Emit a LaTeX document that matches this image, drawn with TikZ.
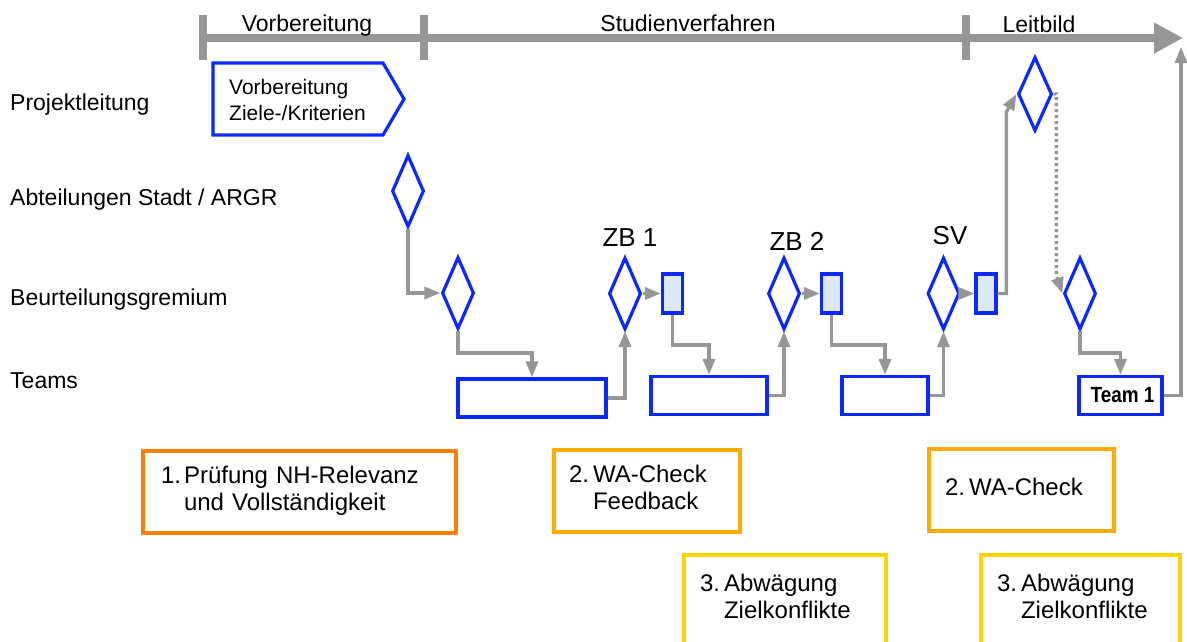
\documentclass[tikz,border=0pt]{standalone}
\usepackage{fontspec}
\setmainfont{Liberation Sans}
\usepackage{tikz}
\usetikzlibrary{shapes.geometric, arrows.meta, positioning, calc}
\definecolor{flowblue}{RGB}{10, 40, 255}
\definecolor{flowgray}{RGB}{150, 150, 150}
\definecolor{lightfill}{RGB}{220, 232, 246}
\definecolor{orangeA}{RGB}{255, 128, 0}
\definecolor{orangeB}{RGB}{255, 170, 0}
\definecolor{goldC}{RGB}{255, 210, 0}

\begin{document}
\begin{tikzpicture}[x=1pt, y=-1pt,
    flow/.style={draw=flowgray, line width=3.4pt, -{Triangle[length=16pt,width=12pt]}},
    gate/.style={diamond, draw=flowblue, line width=3.2pt, minimum width=32pt, minimum height=72pt, inner sep=0pt},
    slot/.style={rectangle, draw=flowblue, line width=3.2pt, fill=lightfill, minimum width=20pt, minimum height=39pt, inner sep=0pt},
    teambox/.style={rectangle, draw=flowblue, line width=3.2pt, minimum height=38pt, inner sep=0pt},
    rowlabel/.style={anchor=base west, inner sep=0pt, font=\fontsize{23}{27}\selectfont},
    phase/.style={anchor=base, inner sep=0pt, font=\fontsize{23}{27}\selectfont},
    zblabel/.style={anchor=base, inner sep=0pt, font=\fontsize{26}{30}\selectfont},
    note/.style={rectangle, line width=3.4pt, align=left, inner ysep=0pt, font=\fontsize{24}{27}\selectfont}]
    \useasboundingbox (0,0) rectangle (1187,641);

    % time line
    \coordinate (tstart) at (203,38);
    \coordinate (tend) at (1183,38);
    \draw[flowgray, line width=7.5pt, -{Triangle[length=29pt,width=29pt]}] (tstart) -- (tend);
    \foreach \x in {203,424,966}
        \draw[flowgray, line width=8pt] (\x,15) -- (\x,60);
    \node[phase] (ph1) at (307,31) {Vorbereitung};
    \node[phase] (ph2) at (688,31) {Studienverfahren};
    \node[phase] (ph3) at (1039,32) {Leitbild};

    % rows
    \node[rowlabel] (rpl) at (10,110) {Projektleitung};
    \node[rowlabel] (rabt) at (10,205) {Abteilungen Stadt / ARGR};
    \node[rowlabel] (rbg) at (10,305) {Beurteilungsgremium};
    \node[rowlabel] (rteam) at (10,388) {Teams};

    % Projektleitung
    \draw[flowblue, line width=3.2pt] (213,63) -- (383,63) -- (404,99) -- (383,135) -- (213,135) -- cycle;
    \node[anchor=west, align=left, inner sep=0pt, font=\fontsize{21}{26}\selectfont] (prep) at (229,100) {Vorbereitung\\Ziele-/Kriterien};

    % process
    \node[gate] (abt) at (408,191) {};
    \node[gate] (bg1) at (458,293) {};
    \node[teambox, minimum width=148pt] (t1) at (532,398) {};
    \node[gate] (zb1) at (625,293.5) {};
    \node[slot] (r1) at (672.5,293.5) {};
    \node[teambox, minimum width=116pt] (t2) at (709,395.5) {};
    \node[gate] (zb2) at (784,293.5) {};
    \node[slot] (r2) at (831.5,293.5) {};
    \node[teambox, minimum width=86pt] (t3) at (885,395.5) {};
    \node[gate] (sv) at (943.5,293.5) {};
    \node[slot] (r3) at (986,293.5) {};
    \node[gate, minimum width=34pt, minimum height=74pt] (lb) at (1035,94) {};
    \node[gate] (bg2) at (1080,293.5) {};
    \node[teambox, minimum width=83pt, font=\bfseries\fontsize{22}{24}\selectfont] (team) at (1120.5,395.5) {\hspace{4pt}\scalebox{0.86}[1]{Team 1}};
    \coordinate (fin) at (1181,47);

    \node[zblabel] (zb1l) at (630,246) {ZB 1};
    \node[zblabel] (zb2l) at (797,250) {ZB 2};
    \node[zblabel] (svl) at (950,244) {SV};

    % connectors
    \draw[flow] (abt.south) |- (bg1.west);
    \draw[flow] (bg1.south) -- (bg1.south |- 0,353) -| (t1.north);
    \draw[flow] (t1.east) -| (zb1.south);
    \draw[flow] (zb1.east) -- (r1.west);
    \draw[flow] (r1.south) -- (r1.south |- 0,345) -| (t2.north);
    \draw[flow] (t2.east) -| (zb2.south);
    \draw[flow] (zb2.east) -- (r2.west);
    \draw[flow] (r2.south) -- (r2.south |- 0,345) -| (t3.north);
    \draw[flow] (t3.east) -| (sv.south);
    \draw[flow] (sv.east) -- (r3.west);
    \draw[flow] (r3.east) -| ($(lb.west)+(-10,18)$) -- (lb.west);
    \draw[flow, dash pattern=on 3pt off 3pt] (lb.east) -| ($(bg2.west)+(-6,-18)$) -- (bg2.west);
    \draw[flow] (bg2.south) -- (bg2.south |- 0,353) -| (team.north);
    \draw[flow] (team.east) -| (fin);

    % checks
    \node[note, draw=orangeA, inner xsep=18pt, text width=277pt, minimum height=82pt] (chk1) at (299.5,492)
        {\begin{tabular}{@{}l@{\hspace{3pt}}l@{}}1.&Prüfung NH-Relevanz\\&und Vollständigkeit\end{tabular}};
    \node[note, draw=orangeB, inner xsep=15pt, text width=156pt, minimum height=82pt] (chk2) at (647,491)
        {\begin{tabular}{@{}l@{\hspace{4pt}}l@{}}2.&WA-Check\\&Feedback\end{tabular}};
    \node[note, draw=goldC, inner xsep=16pt, text width=170pt, minimum height=90pt] (chk3) at (785,600)
        {\begin{tabular}{@{}l@{\hspace{4pt}}l@{}}3.&Abwägung\\&Zielkonflikte\end{tabular}};
    \node[note, draw=orangeB, inner xsep=16pt, text width=153pt, minimum height=82pt] (chk4) at (1021.5,490)
        {\begin{tabular}{@{}l@{\hspace{4pt}}l@{}}2.&WA-Check\end{tabular}};
    \node[note, draw=goldC, inner xsep=16pt, text width=167pt, minimum height=90pt] (chk5) at (1080.5,600)
        {\begin{tabular}{@{}l@{\hspace{4pt}}l@{}}3.&Abwägung\\&Zielkonflikte\end{tabular}};
\end{tikzpicture}
\end{document}
